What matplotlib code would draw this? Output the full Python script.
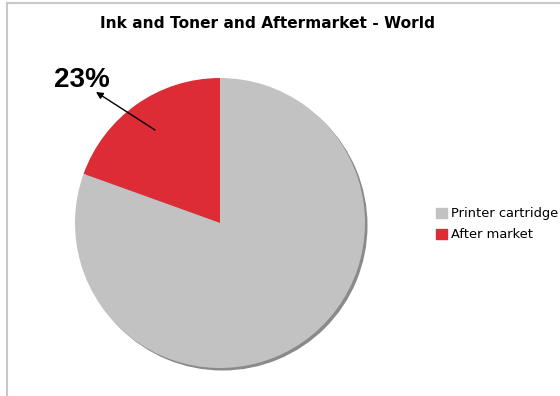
import matplotlib
matplotlib.use('Agg')
from matplotlib import pyplot as plt
from matplotlib.patches import Patch

# 数据
labels = ['After market', 'Printer cartridge']
shares = [19.5, 80.5]
colors = ['#dd2c35', '#c2c2c2']
pct_label = '23%'
title = 'Ink and Toner and Aftermarket - World'

fig = plt.figure(figsize=(5.6, 3.96), dpi=100)
ax = fig.add_axes([0, 0, 1, 1])

# 边框
ax.plot([7, 560], [393, 393], color='#c8c8c8', lw=1.5)
ax.plot([7, 7], [0, 393], color='#c8c8c8', lw=1.5)

# 阴影
ax.pie([1], colors=['#8a8a8a'], center=(222.5, 170.5), radius=145,
       wedgeprops=dict(linewidth=0))
# 饼图
wedges, _ = ax.pie(shares, colors=colors, startangle=90, counterclock=True,
                   center=(220, 173), radius=145,
                   wedgeprops=dict(linewidth=0))
ax.set_xlim(0, 560)
ax.set_ylim(0, 396)
ax.set_aspect('equal')
ax.axis('off')

ax.text(82, 316, pct_label, fontsize=20, fontweight='bold',
        family='Liberation Sans', ha='center', va='center')
# 箭头：从扇形指向标签
ax.annotate('', xy=(96, 304), xytext=(155, 266),
            arrowprops=dict(arrowstyle='-|>', color='black', lw=1,
                            shrinkA=0, shrinkB=0, mutation_scale=10))

ax.text(268, 372, title, fontsize=11.1, fontweight='bold',
        ha='center', va='center', family='DejaVu Sans')

handles = [Patch(color=colors[1]), Patch(color=colors[0])]
fig.legend(handles, [labels[1], labels[0]], loc='upper left',
           bbox_to_anchor=(431 / 560, 1 - 202 / 396), frameon=False,
           fontsize=9.4, handlelength=0.8, handleheight=0.8,
           handletextpad=0.3, labelspacing=0.6, borderaxespad=0)

fig.savefig('out.png', dpi=100)
